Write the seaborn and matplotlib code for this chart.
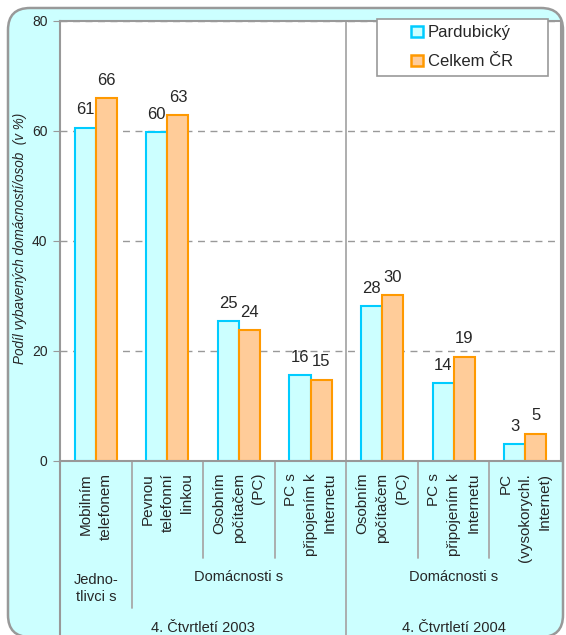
import matplotlib
matplotlib.use("Agg")
import matplotlib.pyplot as plt
from matplotlib.patches import FancyBboxPatch, Rectangle, Patch
from matplotlib.lines import Line2D
from matplotlib.transforms import IdentityTransform, blended_transform_factory
import seaborn as sns
import pandas as pd

# data
kategorie = ["Mobilním\ntelefonem", "Pevnou\ntelefonní\nlinkou", "Osobním\npočítačem\n(PC)",
             "PC s\npřipojením k\nInternetu", "Osobním\npočítačem\n(PC)",
             "PC s\npřipojením k\nInternetu", "PC\n(vysokorychl.\nInternet)"]
pardubicky = [60.6, 59.8, 25.4, 15.6, 28.1, 14.1, 3.1]
celkem_cr = [66.0, 62.9, 23.8, 14.8, 30.1, 19.0, 5.0]
rady = ["Pardubický", "Celkem ČR"]
skupiny = ["Jedno-\ntlivci s", "Domácnosti s", "Domácnosti s"]
obdobi = ["4. Čtvrtletí 2003", "4. Čtvrtletí 2004"]
y_popisek = "Podíl vybavených domácností/osob  (v %)"

df = pd.DataFrame({
    "poradi": list(range(len(kategorie))) * 2,
    "hodnota": pardubicky + celkem_cr,
    "rada": [rady[0]] * len(kategorie) + [rady[1]] * len(kategorie),
})

sns.set_style("white")
plt.rcParams["font.family"] = ["Liberation Sans", "DejaVu Sans"]

W, H = 566, 635
fig = plt.figure(figsize=(W / 100, H / 100), dpi=100)

# rounded cyan frame behind everything
ramecek = FancyBboxPatch((8, H - 637), 555, 629, boxstyle="round,pad=0,rounding_size=22",
                         transform=IdentityTransform(), facecolor="#CCFFFF",
                         edgecolor="#999999", linewidth=1.8, zorder=-5)
fig.patches.append(ramecek)

ax = fig.add_axes([60 / W, 1 - 461 / H, 501 / W, 440 / H])
ax.set_facecolor("white")

vyplne = ["#CCFFFF", "#FFCC99"]
okraje = ["#00CCFF", "#FF9900"]

sns.barplot(data=df, x="poradi", y="hodnota", hue="rada", hue_order=rady,
            palette=vyplne, width=0.59, legend=False, ax=ax, saturation=1)

for i, cont in enumerate(ax.containers):
    for bar in cont:
        bar.set_edgecolor(okraje[i])
        bar.set_linewidth(1.5)
    ax.bar_label(cont, fmt="%.0f", padding=7.5, fontsize=12)

ax.set_ylim(0, 80)
ax.set_xlim(-0.5, len(kategorie) - 0.5)
ax.set_yticks([0, 20, 40, 60, 80])
ax.tick_params(axis="y", direction="out", length=5, color="#999999", labelsize=10, pad=4, left=True)
ax.set_xticks([])
ax.set_xlabel("")
ax.set_ylabel("")
ax.set_axisbelow(True)
ax.yaxis.grid(True, linestyle=(0, (5, 4)), color="#999999", linewidth=1)
for s in ax.spines.values():
    s.set_color("#999999")
    s.set_linewidth(1.5)

ax.text(-40 / 501, 0.505, y_popisek, transform=ax.transAxes, rotation=90,
        ha="center", va="center", fontsize=9.75, style="italic")

# category labels and separators below the axis
tr = blended_transform_factory(ax.transData, ax.transAxes)
for i, k in enumerate(kategorie):
    ax.text(i, -0.027, k, transform=tr, rotation=90, ha="center", va="top",
            multialignment="right", fontsize=11, linespacing=1.5)

car = dict(color="#A8A8A8", linewidth=1.3, clip_on=False, transform=tr)
for xp in [1.5, 2.5, 4.5, 5.5]:
    ax.add_line(Line2D([xp, xp], [0, -0.22], **car))
ax.add_line(Line2D([0.5, 0.5], [0, -0.333], **car))
ax.add_line(Line2D([3.5, 3.5], [1, -0.4], **car))
ax.add_line(Line2D([-0.5, -0.5], [0, -0.4], color="#999999", linewidth=1.5,
                   clip_on=False, transform=tr))

ax.text(0, -0.289, skupiny[0], transform=tr, ha="center", va="center",
        multialignment="center", fontsize=10.5, linespacing=1.25)
ax.text(2, -0.264, skupiny[1], transform=tr, ha="center", va="center", fontsize=10.5)
ax.text(5, -0.264, skupiny[2], transform=tr, ha="center", va="center", fontsize=10.5)
ax.text(1.5, -0.380, obdobi[0], transform=tr, ha="center", va="center", fontsize=10.5)
ax.text(5, -0.380, obdobi[1], transform=tr, ha="center", va="center", fontsize=10.5)

# legend box
ax.add_patch(Rectangle((0.633, 0.875), 0.341, 0.13, transform=ax.transAxes,
                       facecolor="white", edgecolor="#999999", linewidth=1.2,
                       clip_on=False, zorder=5))
uchyty = [Patch(facecolor=vyplne[i], edgecolor=okraje[i], linewidth=1.8, label=rady[i])
          for i in range(2)]
leg = ax.legend(handles=uchyty, loc="center", bbox_to_anchor=(0.803, 0.94), frameon=False,
                fontsize=12, handlelength=0.7, handleheight=0.7, handletextpad=0.3,
                labelspacing=0.85, borderpad=0)
leg.set_zorder(6)

fig.savefig("out.png", dpi=100)
